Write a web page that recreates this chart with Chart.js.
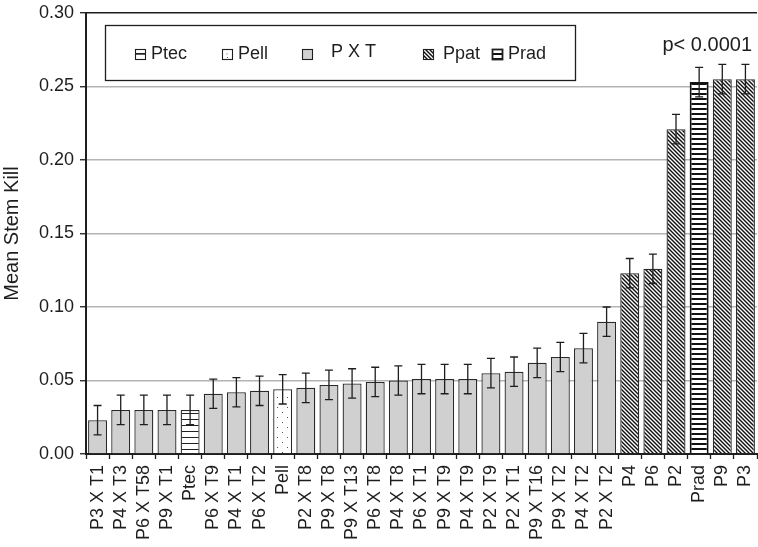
<!DOCTYPE html>
<html>
<head>
<meta charset="utf-8">
<script src="https://cdn.jsdelivr.net/npm/chart.js@4/dist/chart.umd.min.js"></script>
<style>
  html, body { margin: 0; padding: 0; background: #fff; }
  #wrap { width: 758px; height: 547px; }
</style>
</head>
<body>
<div id="wrap"><canvas id="killChart" width="758" height="547"></canvas></div>
<script>
// data
const labels = ['P3 X T1', 'P4 X T3', 'P6 X T58', 'P9 X T1', 'Ptec', 'P6 X T9', 'P4 X T1', 'P6 X T2', 'Pell',
    'P2 X T8', 'P9 X T8', 'P9 X T13', 'P6 X T8', 'P4 X T8', 'P6 X T1', 'P9 X T9', 'P4 X T9', 'P2 X T9',
    'P2 X T1', 'P9 X T16', 'P9 X T2', 'P4 X T2', 'P2 X T2', 'P4', 'P6', 'P2', 'Prad', 'P9', 'P3'];
const means = [0.023, 0.030, 0.030, 0.030, 0.030, 0.041, 0.042, 0.043, 0.044,
    0.045, 0.047, 0.048, 0.049, 0.050, 0.051, 0.051, 0.051, 0.055,
    0.056, 0.062, 0.066, 0.072, 0.090, 0.123, 0.126, 0.221, 0.253, 0.255, 0.255];
const errors = [0.010, 0.010, 0.010, 0.010, 0.010, 0.010, 0.010, 0.010, 0.010,
    0.010, 0.010, 0.010, 0.010, 0.010, 0.010, 0.010, 0.010, 0.010,
    0.010, 0.010, 0.010, 0.010, 0.010, 0.010, 0.010, 0.010, 0.010, 0.010, 0.010];
const groups = ['PXT', 'PXT', 'PXT', 'PXT', 'Ptec', 'PXT', 'PXT', 'PXT', 'Pell',
    'PXT', 'PXT', 'PXT', 'PXT', 'PXT', 'PXT', 'PXT', 'PXT', 'PXT',
    'PXT', 'PXT', 'PXT', 'PXT', 'PXT', 'Ppat', 'Ppat', 'Ppat', 'Prad', 'Ppat', 'Ppat'];
const yTicks = [0, 0.05, 0.10, 0.15, 0.20, 0.25, 0.30];

const FONT = "'Liberation Sans', Arial, Helvetica, sans-serif";
const INK = '#1e1e1e';

// fill patterns for each group
function tile(w, h, draw) {
    const c = document.createElement('canvas');
    c.width = w; c.height = h;
    const g = c.getContext('2d');
    g.fillStyle = '#fff';
    g.fillRect(0, 0, w, h);
    draw(g);
    return g.createPattern(c, 'repeat');
}

const fills = {
    PXT: '#d0d0d0',
    Ptec: tile(6, 6, g => { g.fillStyle = '#222'; g.fillRect(0, 5, 6, 1.2); }),
    Pell: tile(10, 10, g => {
        g.fillStyle = '#555';
        g.fillRect(2, 2, 1, 1);
        g.fillRect(7, 7, 1, 1);
    }),
    Ppat: tile(4, 4, g => {
        g.strokeStyle = '#111';
        g.lineWidth = 1.4;
        [-4, 0, 4].forEach(o => {
            g.beginPath();
            g.moveTo(o - 1, -1);
            g.lineTo(o + 5, 5);
            g.stroke();
        });
    }),
    Prad: tile(5, 5, g => { g.fillStyle = '#111'; g.fillRect(0, 3, 5, 2); })
};

// error bars on top of the bars
const errorBars = {
    id: 'errorBars',
    afterDatasetsDraw(chart) {
        const ctx = chart.ctx;
        const y = chart.scales.y;
        const meta = chart.getDatasetMeta(0);
        ctx.save();
        ctx.strokeStyle = INK;
        ctx.lineWidth = 1.3;
        meta.data.forEach((bar, i) => {
            const top = y.getPixelForValue(means[i] + errors[i]);
            const bot = y.getPixelForValue(means[i] - errors[i]);
            ctx.beginPath();
            ctx.moveTo(bar.x, top); ctx.lineTo(bar.x, bot);
            ctx.moveTo(bar.x - 4, top); ctx.lineTo(bar.x + 4, top);
            ctx.moveTo(bar.x - 4, bot); ctx.lineTo(bar.x + 4, bot);
            ctx.stroke();
        });
        ctx.restore();
    }
};

// boxed legend and the p value note
const legendItems = [
    { group: 'Ptec', text: 'Ptec', icon: 135, tx: 151 },
    { group: 'Pell', text: 'Pell', icon: 222, tx: 238 },
    { group: 'PXT', text: 'P X T', icon: 302, tx: 331 },
    { group: 'Ppat', text: 'Ppat', icon: 423, tx: 443 },
    { group: 'Prad', text: 'Prad', icon: 492, tx: 508 }
];

const boxLegend = {
    id: 'boxLegend',
    afterDraw(chart) {
        const ctx = chart.ctx;
        ctx.save();
        ctx.strokeStyle = INK;
        ctx.lineWidth = 1.3;
        ctx.strokeRect(105.5, 25.5, 470, 55);
        ctx.font = '18px ' + FONT;
        ctx.textBaseline = 'middle';
        ctx.fillStyle = INK;
        legendItems.forEach(it => {
            ctx.fillStyle = fills[it.group];
            ctx.fillRect(it.icon, 49, 10, 10);
            if (it.group === 'Ptec') {
                ctx.fillStyle = INK;
                ctx.fillRect(it.icon, 53.5, 10, 1.2);
            }
            if (it.group === 'Pell') {
                ctx.fillStyle = '#555';
                ctx.fillRect(it.icon + 4.5, 53.5, 1, 1);
            }
            ctx.lineWidth = it.group === 'Prad' ? 1.8 : 1.1;
            ctx.strokeRect(it.icon + 0.5, 49.5, 10, 10);
            ctx.fillStyle = INK;
            ctx.fillText(it.text, it.tx, it.group === 'PXT' ? 52 : 54);
        });
        const y = chart.scales.y;
        ctx.font = '20px ' + FONT;
        ctx.textAlign = 'right';
        ctx.fillText('p< 0.0001', chart.chartArea.right - 5, y.getPixelForValue(0.2782));
        ctx.restore();
    }
};

new Chart(document.getElementById('killChart'), {
    type: 'bar',
    data: {
        labels: labels,
        datasets: [{
            data: means,
            backgroundColor: groups.map(g => fills[g]),
            borderColor: groups.map(g => g === 'Prad' ? '#111' : '#2a2a2a'),
            borderWidth: groups.map(g => g === 'Prad' ? 2 : 1.3),
            categoryPercentage: 1,
            barPercentage: 0.82
        }]
    },
    options: {
        responsive: false,
        animation: false,
        devicePixelRatio: 1,
        layout: { padding: { top: 13, right: 1, left: 0, bottom: 0 } },
        plugins: {
            legend: { display: false },
            tooltip: { enabled: false }
        },
        scales: {
            x: {
                offset: true,
                grid: {
                    offset: true,
                    drawOnChartArea: false,
                    drawTicks: true,
                    tickLength: 5,
                    tickColor: INK,
                    tickWidth: 1.3
                },
                border: { color: INK, width: 2 },
                ticks: {
                    autoSkip: false,
                    minRotation: 90,
                    maxRotation: 90,
                    padding: 6,
                    color: INK,
                    font: { family: FONT, size: 18 }
                },
                afterFit(scale) {
                    scale.height = 93;
                    scale.paddingLeft = 0;
                    scale.paddingRight = 0;
                }
            },
            y: {
                min: 0,
                max: 0.30,
                afterBuildTicks(scale) { scale.ticks = yTicks.map(v => ({ value: v })); },
                grid: {
                    color: c => (c.tick && c.tick.value === 0.30) ? INK : '#b4b4b4',
                    lineWidth: c => (c.tick && c.tick.value === 0.30) ? 1.4 : 1.5,
                    tickLength: 6,
                    tickColor: INK,
                    tickWidth: 1.3
                },
                border: { color: INK, width: 2 },
                ticks: {
                    padding: 6,
                    color: INK,
                    font: { family: FONT, size: 18 },
                    callback: v => v.toFixed(2)
                },
                title: {
                    display: true,
                    text: 'Mean Stem Kill',
                    color: INK,
                    font: { family: FONT, size: 20 },
                    padding: { top: 0, bottom: 0 }
                },
                afterFit(scale) {
                    scale.width = 86;
                    scale.paddingTop = 0;
                    scale.paddingBottom = 0;
                }
            }
        }
    },
    plugins: [errorBars, boxLegend]
});
</script>
</body>
</html>
